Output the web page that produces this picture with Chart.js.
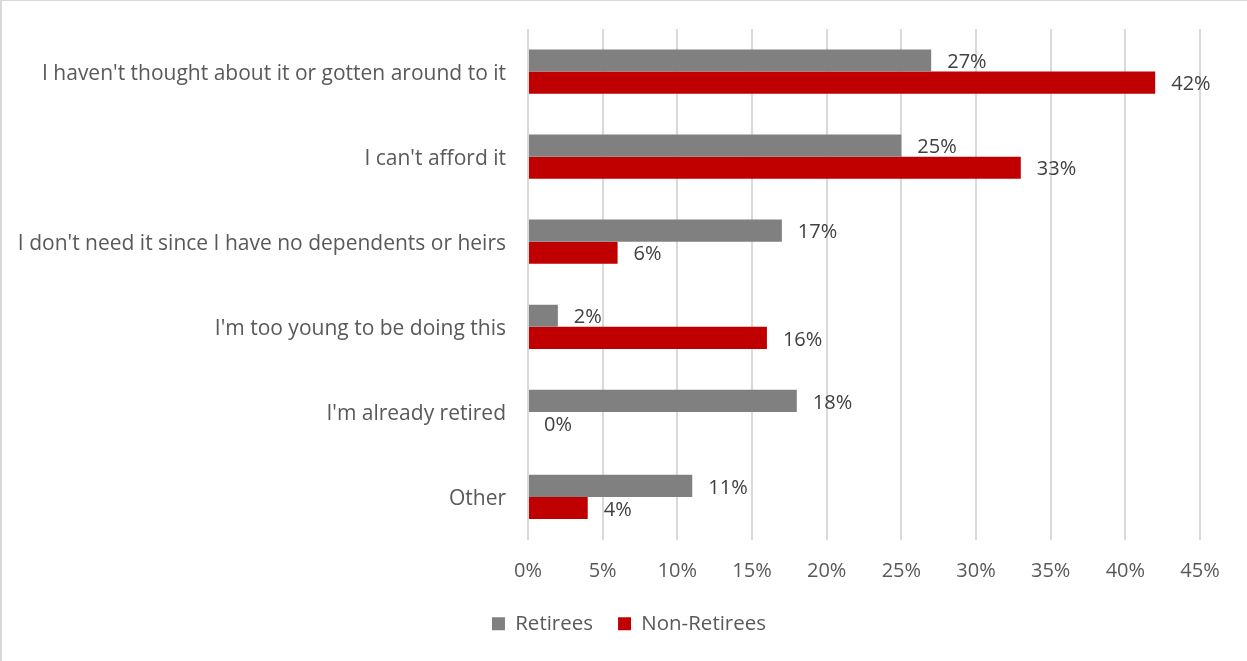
<!DOCTYPE html>
<html>
<head>
<meta charset="utf-8">
<script src="https://cdn.jsdelivr.net/npm/chart.js@4/dist/chart.umd.min.js"></script>
<style>
    html, body { margin: 0; padding: 0; background: #fff; }
    #wrap {
        position: relative;
        width: 1247px;
        height: 661px;
        box-sizing: border-box;
        border-left: 2px solid #D9D9D9;
        border-top: 1px solid #D9D9D9;
    }
</style>
</head>
<body>
<div id="wrap"><canvas id="razones"></canvas></div>
<script>
// categorías y valores (%)
const categorias = [
    "I haven't thought about it or gotten around to it",
    "I can't afford it",
    "I don't need it since I have no dependents or heirs",
    "I'm too young to be doing this",
    "I'm already retired",
    "Other"
];
const jubilados = [27, 25, 17, 2, 18, 11];
const noJubilados = [42, 33, 6, 16, 0, 4];
const series = ['Retirees', 'Non-Retirees'];
const ticksX = [0, 5, 10, 15, 20, 25, 30, 35, 40, 45];

const colores = { gris: '#808080', rojo: '#C00000', texto: '#595959', etiqueta: '#404040', grid: '#D9D9D9' };
const fuente = '"Open Sans", Lato, sans-serif';

// etiquetas de valor a la derecha de cada barra
const etiquetasPlugin = {
    id: 'etiquetas',
    afterDatasetsDraw(chart) {
        const ctx = chart.ctx;
        ctx.save();
        ctx.font = '20px ' + fuente;
        ctx.fillStyle = colores.etiqueta;
        ctx.textAlign = 'left';
        ctx.textBaseline = 'middle';
        chart.data.datasets.forEach((ds, i) => {
            chart.getDatasetMeta(i).data.forEach((bar, j) => {
                ctx.fillText(ds.data[j] + '%', bar.x + 16, bar.y + 2);
            });
        });
        ctx.restore();
    }
};

// desplaza la leyenda hacia la derecha para centrarla bajo el área de barras
const leyendaPlugin = {
    id: 'leyendaDesplazada',
    afterLayout(chart) {
        if (!chart.legend) return;
        chart.legend.left += 28;
        chart.legend.right += 28;
    }
};

new Chart(document.getElementById('razones').getContext('2d'), {
    type: 'bar',
    data: {
        labels: categorias,
        datasets: [
            { label: series[0], data: jubilados, backgroundColor: colores.gris },
            { label: series[1], data: noJubilados, backgroundColor: colores.rojo }
        ]
    },
    options: {
        indexAxis: 'y',
        responsive: true,
        maintainAspectRatio: false,
        animation: false,
        categoryPercentage: 0.52,
        barPercentage: 1,
        layout: { padding: { top: 28, right: 47, bottom: 17, left: 0 } },
        scales: {
            x: {
                min: 0,
                max: 45,
                afterBuildTicks: (s) => { s.ticks = ticksX.map(v => ({ value: v })); },
                afterFit: (s) => { s.height = 49; s.paddingLeft = 0; s.paddingRight = 0; },
                grid: { color: colores.grid, lineWidth: 2, drawTicks: false },
                border: { display: false },
                ticks: {
                    padding: 20,
                    color: colores.texto,
                    font: { family: fuente, size: 20 },
                    callback: (v) => v + '%'
                }
            },
            y: {
                afterFit: (s) => { s.width = 526; s.paddingTop = 0; s.paddingBottom = 0; },
                grid: { display: false, drawTicks: false },
                border: { display: false },
                ticks: {
                    padding: 22,
                    labelOffset: 2,
                    color: colores.texto,
                    font: { family: fuente, size: 21 }
                }
            }
        },
        plugins: {
            legend: {
                position: 'bottom',
                labels: {
                    boxWidth: 13,
                    boxHeight: 13,
                    padding: 25,
                    color: colores.texto,
                    font: { family: fuente, size: 20.5 }
                }
            },
            tooltip: { enabled: false }
        }
    },
    plugins: [etiquetasPlugin, leyendaPlugin]
});
</script>
</body>
</html>
